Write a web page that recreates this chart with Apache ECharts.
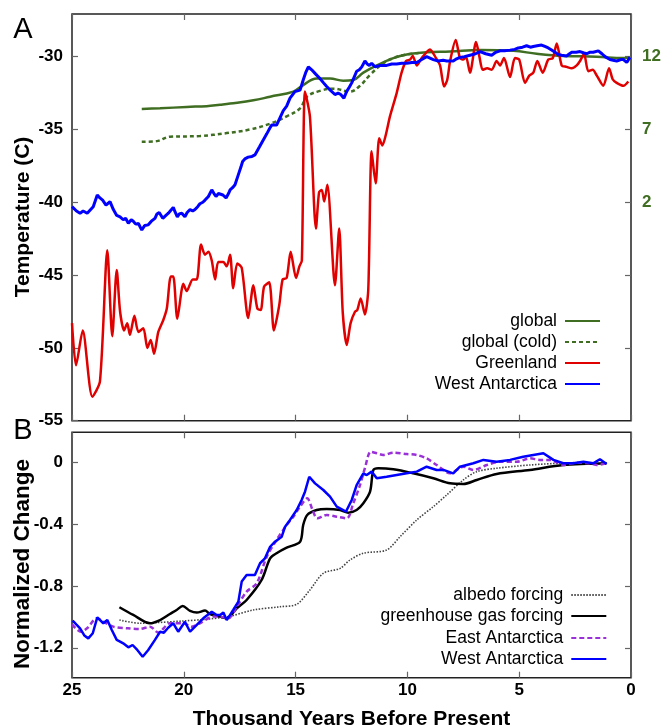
<!DOCTYPE html>
<html>
<head>
<meta charset="utf-8">
<script src="https://cdn.jsdelivr.net/npm/echarts@6/dist/echarts.min.js"></script>
<style>
  html, body { margin: 0; padding: 0; background: #fff; }
  #main { width: 665px; height: 728px; }
</style>
</head>
<body>
<div id="main"></div>
<script>
// [thousand years before present, value]
const globalTemp = [[21.88,-33.6],[21.06,-33.55],[19.87,-33.45],[18.98,-33.4],[18.38,-33.3],[17.93,-33.22],[16.89,-33.0],[16.14,-32.75],[15.1,-32.4],[14.66,-31.95],[14.06,-31.5],[13.46,-31.5],[12.87,-31.65],[12.42,-31.6],[11.97,-31.1],[11.37,-30.6],[10.63,-30.1],[10.03,-29.85],[9.14,-29.7],[8.09,-29.65],[6.75,-29.55],[5.26,-29.6],[4.22,-29.8],[3.03,-29.95],[1.53,-30.0],[0.34,-30.1],[0.05,-30.05]];
const globalColdTemp = [[21.88,-35.85],[21.21,-35.8],[20.62,-35.5],[19.28,-35.45],[18.08,-35.25],[17.04,-35.0],[16.14,-34.6],[15.4,-34.1],[14.8,-33.55],[14.5,-32.75],[13.91,-32.35],[13.31,-32.2],[12.57,-32.4],[12.12,-32.0],[11.67,-31.25],[11.08,-30.45],[10.63,-30.1],[10.2,-29.9],[9.5,-29.75]];
const greenlandTemp = [[25.0,-48.3],[24.82,-51.2],[24.52,-48.8],[24.09,-53.35],[23.75,-52.3],[23.42,-43.3],[23.2,-49.2],[23.0,-44.65],[22.85,-47.5],[22.67,-48.8],[22.53,-48.3],[22.41,-49.1],[22.21,-47.8],[22.03,-48.9],[21.81,-48.65],[21.63,-50.0],[21.48,-49.45],[21.33,-50.4],[21.14,-48.9],[20.92,-48.1],[20.76,-47.3],[20.58,-45.1],[20.47,-45.1],[20.29,-48.0],[20.02,-45.6],[19.87,-46.1],[19.6,-45.3],[19.42,-45.3],[19.23,-42.9],[19.05,-43.6],[18.9,-43.4],[18.75,-44.0],[18.6,-45.3],[18.46,-44.1],[18.23,-44.1],[18.08,-44.4],[17.93,-43.6],[17.79,-45.9],[17.61,-44.2],[17.41,-44.5],[17.12,-47.95],[16.89,-45.7],[16.71,-47.3],[16.56,-47.4],[16.41,-45.8],[16.18,-45.5],[15.97,-48.8],[15.73,-47.05],[15.58,-45.3],[15.4,-45.2],[15.22,-43.4],[14.98,-45.2],[14.83,-44.4],[14.72,-44.0],[14.58,-32.4],[14.36,-34.1],[14.09,-41.8],[13.95,-39.3],[13.83,-39.15],[13.72,-39.95],[13.58,-38.8],[13.24,-45.7],[13.05,-41.8],[12.89,-47.6],[12.71,-49.8],[12.54,-48.3],[12.34,-47.5],[12.24,-47.4],[12.09,-46.6],[11.9,-47.7],[11.75,-46.0],[11.6,-36.5],[11.42,-38.7],[11.26,-35.6],[11.12,-36.1],[10.97,-35.4],[10.78,-34.1],[10.48,-32.5],[10.26,-31.1],[10.06,-30.3],[9.88,-30.2],[9.76,-29.95],[9.58,-30.6],[9.36,-30.1],[8.99,-29.5],[8.72,-30.1],[8.54,-30.6],[8.36,-32.05],[8.22,-31.6],[8.09,-30.3],[7.84,-28.85],[7.65,-30.1],[7.5,-30.2],[7.38,-30.0],[7.2,-31.1],[6.93,-29.0],[6.78,-30.0],[6.63,-30.9],[6.43,-30.8],[6.23,-30.9],[6.01,-30.3],[5.86,-30.6],[5.68,-30.1],[5.41,-31.4],[5.19,-30.1],[5.0,-30.2],[4.74,-31.8],[4.55,-31.3],[4.37,-31.1],[4.19,-30.3],[3.95,-31.1],[3.7,-30.2],[3.5,-30.1],[3.32,-29.1],[3.1,-30.6],[2.88,-30.7],[2.65,-30.8],[2.43,-30.6],[2.28,-30.3],[2.1,-29.8],[1.91,-31.0],[1.71,-30.9],[1.53,-31.3],[1.24,-32.0],[0.98,-30.8],[0.82,-31.55],[0.64,-31.8],[0.34,-32.0],[0.12,-31.7]];
const westAntTemp = [[25.0,-40.3],[24.8,-40.6],[24.64,-40.75],[24.5,-40.6],[24.32,-40.75],[24.05,-40.3],[23.87,-39.5],[23.75,-39.7],[23.63,-39.85],[23.48,-40.2],[23.3,-39.95],[23.15,-40.5],[23.0,-40.9],[22.85,-41.0],[22.71,-41.2],[22.6,-41.1],[22.48,-41.45],[22.35,-41.2],[22.26,-41.3],[22.15,-41.5],[22.03,-41.45],[21.95,-41.7],[21.88,-41.9],[21.75,-41.6],[21.59,-41.55],[21.45,-41.3],[21.29,-41.1],[21.2,-40.8],[21.1,-40.7],[20.94,-41.1],[20.8,-40.9],[20.69,-40.75],[20.55,-40.5],[20.47,-40.35],[20.38,-40.7],[20.29,-41.0],[20.2,-40.8],[20.09,-40.75],[19.95,-41.0],[19.85,-40.7],[19.72,-40.5],[19.6,-40.6],[19.5,-40.5],[19.38,-40.3],[19.28,-40.1],[19.15,-40.0],[19.05,-39.85],[18.9,-39.6],[18.75,-39.15],[18.65,-39.4],[18.56,-39.6],[18.45,-39.4],[18.38,-39.3],[18.25,-39.5],[18.11,-39.7],[18.0,-39.4],[17.93,-39.15],[17.82,-39.0],[17.71,-38.8],[17.56,-38.1],[17.45,-37.6],[17.37,-37.2],[17.25,-37.0],[17.12,-36.9],[16.95,-36.85],[16.82,-36.75],[16.62,-36.2],[16.44,-35.7],[16.29,-35.3],[16.15,-34.9],[16.07,-34.7],[15.85,-34.7],[15.7,-34.2],[15.55,-33.7],[15.4,-33.4],[15.25,-32.85],[15.03,-32.4],[14.8,-32.3],[14.66,-31.6],[14.55,-31.1],[14.43,-30.7],[14.28,-30.9],[14.1,-31.2],[13.91,-31.5],[13.75,-31.8],[13.61,-32.05],[13.45,-32.3],[13.24,-32.6],[13.1,-32.5],[12.98,-32.6],[12.84,-32.85],[12.72,-32.4],[12.6,-32.1],[12.49,-31.8],[12.38,-31.4],[12.27,-31.0],[12.15,-30.9],[12.04,-30.7],[11.9,-30.3],[11.8,-30.5],[11.7,-30.6],[11.6,-30.45],[11.45,-30.7],[11.2,-30.6],[10.93,-30.6],[10.7,-30.5],[10.48,-30.5],[10.25,-30.45],[10.03,-30.45],[9.8,-30.4],[9.58,-30.4],[9.36,-30.2],[9.14,-30.0],[8.99,-30.1],[8.84,-30.2],[8.62,-30.3],[8.4,-30.25],[8.24,-30.3],[8.09,-30.3],[7.95,-30.3],[7.8,-30.15],[7.65,-30.05],[7.45,-30.0],[7.2,-29.9],[6.95,-29.8],[6.75,-29.65],[6.5,-29.8],[6.23,-29.9],[6.05,-29.7],[5.86,-29.6],[5.65,-29.6],[5.41,-29.55],[5.2,-29.5],[5.04,-29.4],[4.85,-29.35],[4.67,-29.25],[4.5,-29.35],[4.37,-29.3],[4.2,-29.25],[4.0,-29.2],[3.85,-29.3],[3.7,-29.4],[3.55,-29.55],[3.4,-29.7],[3.25,-29.85],[3.1,-29.9],[2.88,-29.95],[2.75,-29.8],[2.65,-29.7],[2.45,-29.7],[2.28,-29.65],[2.1,-29.75],[1.98,-29.8],[1.85,-29.7],[1.69,-29.7],[1.46,-29.6],[1.3,-29.8],[1.16,-30.0],[0.94,-30.2],[0.8,-30.25],[0.64,-30.3],[0.45,-30.2],[0.34,-30.2],[0.19,-30.4],[0.05,-30.05]];

const albedoForcing = [[22.88,-1.02],[21.96,-1.041],[21.21,-1.037],[20.02,-1.026],[18.98,-1.015],[17.93,-0.995],[16.89,-0.955],[15.7,-0.934],[14.95,-0.918],[14.36,-0.825],[13.76,-0.717],[13.01,-0.685],[12.57,-0.631],[11.97,-0.587],[10.93,-0.566],[10.33,-0.48],[9.58,-0.371],[8.84,-0.285],[8.24,-0.209],[7.5,-0.112],[6.9,-0.058],[6.01,-0.036],[4.52,-0.015],[3.03,-0.004],[1.09,-0.008]];
const ghgForcing = [[22.88,-0.937],[22.26,-0.987],[21.51,-1.041],[21.06,-1.02],[20.62,-0.981],[20.32,-0.955],[20.05,-0.929],[19.72,-0.961],[19.42,-0.972],[19.05,-0.959],[18.83,-0.981],[18.38,-0.998],[18.08,-1.009],[17.63,-0.944],[17.19,-0.89],[16.52,-0.76],[16.14,-0.62],[15.85,-0.587],[15.4,-0.551],[14.8,-0.512],[14.66,-0.404],[14.48,-0.339],[14.06,-0.307],[13.61,-0.3],[13.01,-0.307],[12.64,-0.324],[12.27,-0.307],[11.97,-0.263],[11.67,-0.188],[11.52,-0.047],[11.3,-0.036],[10.63,-0.043],[9.74,-0.069],[8.84,-0.101],[8.09,-0.134],[7.5,-0.138],[6.9,-0.112],[6.01,-0.073],[4.52,-0.047],[3.03,-0.015],[1.09,-0.004]];
const eastAntNorm = [[25.0,-1.048],[24.6,-1.096],[24.3,-1.07],[23.9,-1.009],[23.6,-1.03],[23.15,-1.063],[22.5,-1.074],[21.96,-1.078],[21.51,-1.063],[21.14,-1.102],[20.62,-1.041],[20.02,-1.041],[19.65,-1.063],[19.28,-1.041],[18.68,-0.998],[18.38,-0.998],[18.01,-1.009],[17.63,-0.934],[17.19,-0.836],[16.74,-0.782],[16.29,-0.609],[15.85,-0.501],[15.4,-0.404],[15.1,-0.35],[14.8,-0.285],[14.48,-0.231],[14.24,-0.307],[14.03,-0.361],[13.61,-0.339],[13.16,-0.35],[12.71,-0.361],[12.42,-0.263],[12.12,-0.145],[11.9,-0.036],[11.64,0.071],[11.37,0.061],[11.08,0.05],[10.63,0.065],[10.03,0.056],[9.58,0.05],[9.14,0.028],[8.69,-0.015],[8.09,-0.069],[7.5,-0.026],[7.05,-0.047],[6.45,-0.015],[5.86,0.006],[5.11,0.006],[4.52,0.028],[4.07,0.018],[3.62,0.018],[3.03,-0.015],[2.43,0.0],[1.83,-0.004],[1.53,-0.015],[1.09,-0.004]];
const westAntNorm = [[24.97,-1.024],[24.8,-1.05],[24.64,-1.074],[24.45,-1.12],[24.27,-1.139],[24.07,-1.106],[23.87,-1.003],[23.6,-1.041],[23.42,-1.02],[23.22,-1.085],[23.0,-1.149],[22.85,-1.16],[22.71,-1.171],[22.48,-1.197],[22.29,-1.182],[22.08,-1.214],[21.84,-1.258],[21.59,-1.214],[21.29,-1.149],[21.06,-1.096],[20.89,-1.102],[20.7,-1.07],[20.47,-1.041],[20.25,-1.096],[19.95,-1.031],[19.72,-1.096],[19.42,-1.052],[19.13,-1.009],[18.75,-0.966],[18.53,-0.987],[18.38,-0.987],[18.23,-0.972],[18.08,-1.02],[17.93,-0.987],[17.79,-0.955],[17.56,-0.901],[17.41,-0.771],[17.19,-0.728],[16.82,-0.728],[16.59,-0.652],[16.37,-0.62],[16.14,-0.545],[15.92,-0.512],[15.62,-0.48],[15.47,-0.415],[15.25,-0.371],[14.95,-0.307],[14.73,-0.242],[14.58,-0.188],[14.39,-0.091],[14.13,-0.134],[13.76,-0.177],[13.46,-0.22],[13.16,-0.285],[12.87,-0.307],[12.75,-0.318],[12.49,-0.242],[12.27,-0.145],[11.97,-0.069],[11.82,-0.08],[11.6,-0.058],[11.37,-0.101],[10.93,-0.091],[10.48,-0.08],[10.03,-0.069],[9.58,-0.058],[9.14,-0.026],[8.69,-0.047],[8.39,-0.047],[7.95,-0.069],[7.65,-0.026],[7.05,-0.004],[6.6,0.018],[6.01,0.006],[5.41,0.018],[4.82,0.039],[4.37,0.05],[3.92,0.061],[3.47,0.018],[3.03,-0.004],[2.58,-0.004],[2.13,0.006],[1.69,-0.004],[1.39,0.022],[1.09,-0.008]];

const topTicks = [-55, -50, -45, -40, -35, -30];
const rightTickValues = [-40, -35, -30];
const rightTickLabels = ['2', '7', '12'];
const bottomTicks = [-1.2, -0.8, -0.4, 0];
const topLegendNames = ['global', 'global (cold)', 'Greenland', 'West Antarctica'];
const bottomLegendNames = ['albedo forcing', 'greenhouse gas forcing', 'East Antarctica', 'West Antarctica'];

const FONT = 'Liberation Sans, Arial, Helvetica, sans-serif';
const GREEN = '#3f6d22';

const chart = echarts.init(document.getElementById('main'), null, { renderer: 'canvas' });

const noLine = { show: false, onZero: false };
const tick = (values) => ({
  show: true, inside: true, length: 6,
  customValues: values,
  lineStyle: { color: '#666', width: 1.2 }
});
const xAx = (grid, pos, labels) => ({
  type: 'value', gridIndex: grid, position: pos,
  min: 0, max: 25, interval: 5, inverse: true,
  axisLine: noLine,
  axisTick: { show: true, inside: true, length: 6, lineStyle: { color: '#666', width: 1.2 } },
  splitLine: { show: false },
  axisLabel: labels
    ? { show: true, margin: 4, color: '#000', fontFamily: FONT, fontSize: 17, fontWeight: 'bold' }
    : { show: false }
});
const legendItem = (name, right, top) => ({
  data: [name], right: right, top: top, orient: 'vertical', align: 'right',
  itemWidth: 35, itemHeight: 14, padding: 0, selectedMode: false,
  itemStyle: { opacity: 0, borderWidth: 0 },
  textStyle: { fontFamily: FONT, fontSize: 17.5, color: '#000', padding: [0, 3, 0, 0] }
});
const line = (name, data, xi, yi, color, width, type, smooth) => ({
  name: name, type: 'line', data: data, xAxisIndex: xi, yAxisIndex: yi,
  symbol: 'none', showSymbol: false, smooth: smooth || false,
  lineStyle: { color: color, width: width, type: type || 'solid' },
  itemStyle: { color: color },
  emphasis: { disabled: true }, animation: false
});

const topLegendTops = [312, 333, 354, 375];
const bottomLegendTops = [586, 607, 629, 650];

chart.setOption({
  backgroundColor: '#fff',
  animation: false,
  grid: [
    { left: 72, right: 34, top: 14, height: 406.7, outerBoundsMode: 'none', show: true, borderColor: '#222', borderWidth: 1.5 },
    { left: 72, right: 34, top: 432.3, height: 245.4, outerBoundsMode: 'none', show: true, borderColor: '#222', borderWidth: 1.5 }
  ],
  xAxis: [
    xAx(0, 'bottom', false),
    xAx(0, 'top', false),
    Object.assign(xAx(1, 'bottom', true), {
      name: 'Thousand Years Before Present', nameLocation: 'middle', nameGap: 31,
      nameTextStyle: { fontFamily: FONT, fontSize: 21, fontWeight: 'bold', color: '#000' }
    }),
    xAx(1, 'top', false)
  ],
  yAxis: [
    {
      type: 'value', gridIndex: 0, position: 'left', min: -55, max: -27.07,
      axisLine: noLine, splitLine: { show: false },
      axisTick: tick(topTicks),
      axisLabel: { customValues: topTicks, margin: 9, color: '#000', fontFamily: FONT, fontSize: 17, fontWeight: 'bold' }
    },
    {
      type: 'value', gridIndex: 0, position: 'right', min: -55, max: -27.07,
      axisLine: noLine, splitLine: { show: false },
      axisTick: tick([-50, -45, -40, -35, -30]),
      axisLabel: {
        customValues: rightTickValues, margin: 11, color: GREEN, fontFamily: FONT, fontSize: 17, fontWeight: 'bold',
        formatter: (v) => rightTickLabels[rightTickValues.indexOf(v)]
      }
    },
    {
      type: 'value', gridIndex: 1, position: 'left', min: -1.394, max: 0.197,
      axisLine: noLine, splitLine: { show: false },
      axisTick: tick(bottomTicks),
      axisLabel: { customValues: bottomTicks, margin: 9, color: '#000', fontFamily: FONT, fontSize: 17, fontWeight: 'bold' }
    },
    {
      type: 'value', gridIndex: 1, position: 'right', min: -1.394, max: 0.197,
      axisLine: noLine, splitLine: { show: false },
      axisTick: tick(bottomTicks),
      axisLabel: { show: false }
    }
  ],
  legend: topLegendNames.map((n, i) => legendItem(n, 64, topLegendTops[i]))
    .concat(bottomLegendNames.map((n, i) => legendItem(n, 57.7, bottomLegendTops[i]))),
  graphic: [
    { type: 'text', x: 23, y: 30, style: { text: 'A', font: '29px ' + FONT, fill: '#000', align: 'center', verticalAlign: 'middle' } },
    { type: 'text', x: 23, y: 431, style: { text: 'B', font: '29px ' + FONT, fill: '#000', align: 'center', verticalAlign: 'middle' } },
    { type: 'text', x: 23, y: 217, rotation: Math.PI / 2, style: { text: 'Temperature (C)', font: 'bold 21px ' + FONT, fill: '#000', align: 'center', verticalAlign: 'middle' } },
    { type: 'text', x: 23, y: 564, rotation: Math.PI / 2, style: { text: 'Normalized Change', font: 'bold 22.5px ' + FONT, fill: '#000', align: 'center', verticalAlign: 'middle' } }
  ],
  series: [
    line('global', globalTemp, 0, 0, GREEN, 2.5, 'solid', 0.4),
    line('global (cold)', globalColdTemp, 0, 0, GREEN, 2.5, [4, 3], 0.4),
    line('Greenland', greenlandTemp, 0, 0, '#e00000', 2.5, 'solid', 0.25),
    line('West Antarctica', westAntTemp, 0, 0, '#0000ff', 3),
    line('albedo forcing', albedoForcing, 2, 2, '#444', 1.6, [1.5, 1.5], 0.3),
    line('greenhouse gas forcing', ghgForcing, 2, 2, '#000', 2.5, 'solid', 0.3),
    line('East Antarctica', eastAntNorm, 2, 2, '#9a30d8', 2.5, [5, 3], 0.3),
    line('West Antarctica', westAntNorm, 2, 2, '#0000ff', 2.5)
  ]
});
</script>
</body>
</html>
